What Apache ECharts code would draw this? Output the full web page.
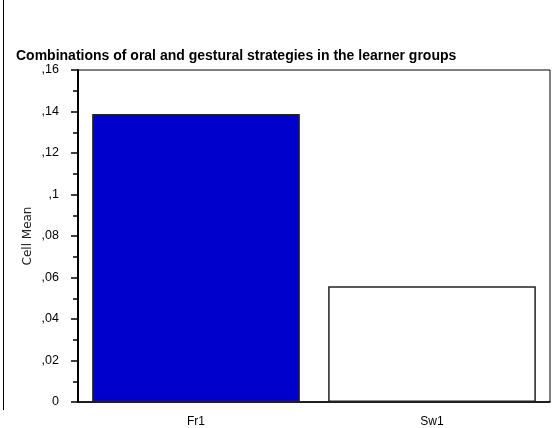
<!DOCTYPE html>
<html><head><meta charset="utf-8">
<script src="https://cdn.jsdelivr.net/npm/echarts@6/dist/echarts.min.js"></script>
<style>html,body{margin:0;padding:0;background:#fff}#c{width:552px;height:428px}</style>
</head><body><div id="c"></div>
<script>
const categories = ['Fr1', 'Sw1'];
const cellMeans = [0.1388, 0.0558];
const barColors = ['#0000CC', '#FFFFFF'];
const yTickLabels = ['0', ',02', ',04', ',06', ',08', ',1', ',12', ',14', ',16'];
const titleText = 'Combinations of oral and gestural strategies in the learner groups';
const yAxisName = 'Cell Mean';

const chart = echarts.init(document.getElementById('c'), null, {renderer: 'canvas'});
chart.setOption({
  animation: false,
  backgroundColor: '#fff',
  title: {
    text: titleText, left: 11, top: 44,
    textStyle: {fontFamily: 'Liberation Sans, Arial', fontSize: 14, fontWeight: 'bold', color: '#000'}
  },
  grid: {left: 78, top: 70, right: 2, bottom: 26, show: true, borderColor: '#000', borderWidth: 1, backgroundColor: 'transparent'},
  xAxis: [{
    type: 'category', data: categories, position: 'bottom',
    axisLine: {lineStyle: {color: '#000', width: 1.5}},
    axisTick: {alignWithLabel: true, length: 4, lineStyle: {color: '#000'}},
    axisLabel: {color: '#000', fontFamily: 'Liberation Sans, Arial', fontSize: 12, margin: 14}
  }, {
    type: 'category', data: categories, position: 'top',
    axisLine: {show: false},
    axisTick: {alignWithLabel: true, length: 4, lineStyle: {color: '#000'}},
    axisLabel: {show: false}
  }],
  yAxis: {
    type: 'value', min: 0, max: 0.16, interval: 0.02,
    name: yAxisName, nameLocation: 'middle', nameGap: 44, nameRotate: 90, nameMoveOverlap: false,
    nameTextStyle: {color: '#222', fontFamily: 'DejaVu Sans', fontSize: 12},
    axisLine: {show: true, lineStyle: {color: '#000', width: 2}},
    axisTick: {show: true, length: 7, lineStyle: {color: '#000', width: 1.5}},
    minorTick: {show: true, splitNumber: 2, length: 5, lineStyle: {color: '#000', width: 1.5}},
    splitLine: {show: false},
    axisLabel: {
      color: '#000', fontFamily: 'Liberation Sans, Arial', fontSize: 12.5, margin: 19,
      formatter: (v) => yTickLabels[Math.round(v / 0.02)]
    }
  },
  series: [{
    type: 'bar', xAxisIndex: 0, barCategoryGap: '12%',
    data: cellMeans.map((v, i) => ({value: v, itemStyle: {color: barColors[i]}})),
    itemStyle: {borderColor: '#222', borderWidth: 1.5}
  }],
  graphic: [{
    type: 'line', shape: {x1: 3.5, y1: 0, x2: 3.5, y2: 410},
    style: {stroke: '#000', lineWidth: 1}
  }]
});
</script></body></html>
